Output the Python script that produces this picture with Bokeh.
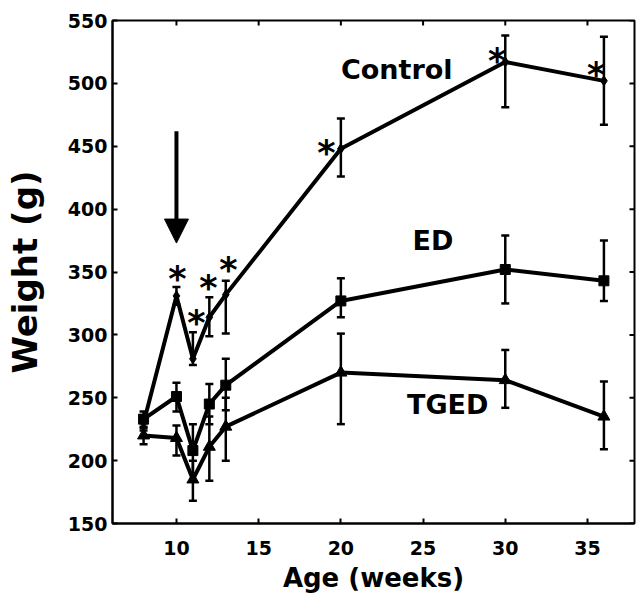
import math
from bokeh.plotting import figure
from bokeh.models import (ColumnDataSource, Whisker, TeeHead, Arrow, NormalHead,
                          FixedTicker, Range1d)
from bokeh.core.properties import value
from bokeh.embed import file_html
from bokeh.resources import INLINE

# ---------------- data ----------------
ages = [8, 10, 11, 12, 13, 20, 30, 36]

control_mean = [230, 331, 281, 314, 332, 448, 517, 502]
control_upper = [236, 338, 302, 330, 343, 472, 538, 537]
control_lower = [224, 324, 276, 299, 301, 426, 481, 467]

ed_mean = [233, 251, 208, 245, 260, 327, 352, 343]
ed_upper = [239, 262, 229, 261, 281, 345, 379, 375]
ed_lower = [227, 239, 190, 229, 240, 314, 325, 327]

tged_mean = [220, 218, 185, 211, 227, 270, 264, 235]
tged_upper = [226, 228, 200, 235, 250, 301, 288, 263]
tged_lower = [213, 204, 168, 184, 200, 229, 242, 209]

star_x = [10.06, 11.22, 11.95, 13.16, 19.12, 29.5, 35.53]
star_y = [351, 316, 344, 358, 451, 524, 513]

series_labels = ["Control", "ED", "TGED"]
label_x = [23.4, 25.6, 26.5]
label_y = [511, 375, 245]

arrow_x = 10
arrow_top = 462
arrow_tip = 373

x_ticks = [10, 15, 20, 25, 30, 35]
y_ticks = [150, 200, 250, 300, 350, 400, 450, 500, 550]
x_lo, x_hi = 6.11, 37.86
y_lo, y_hi = 150, 550

# ---------------- figure ----------------
FONT = "DejaVu Sans"

p = figure(width=636, height=600, output_backend="svg", toolbar_location=None,
           x_range=Range1d(x_lo, x_hi), y_range=Range1d(y_lo, y_hi),
           min_border_left=112, min_border_right=2, min_border_top=20,
           min_border_bottom=77)
p.xgrid.visible = False
p.ygrid.visible = False
p.outline_line_color = "black"
p.outline_line_width = 2
p.background_fill_color = "white"
p.border_fill_color = "white"

for ax in (p.xaxis[0], p.yaxis[0]):
    ax.axis_line_width = 2
    ax.axis_line_color = "black"
    ax.major_tick_in = 5
    ax.major_tick_out = 0
    ax.major_tick_line_width = 2
    ax.minor_tick_line_color = None
    ax.major_label_text_font = FONT
    ax.major_label_text_font_style = "bold"
    ax.major_label_text_font_size = "19px"
    ax.major_label_text_color = "black"
    ax.axis_label_text_font = FONT
    ax.axis_label_text_font_style = "bold"
    ax.axis_label_text_color = "black"

p.xaxis[0].ticker = FixedTicker(ticks=x_ticks)
p.yaxis[0].ticker = FixedTicker(ticks=y_ticks)
p.xaxis[0].axis_label = "Age (weeks)"
p.yaxis[0].axis_label = "Weight (g)"
p.xaxis[0].axis_label_text_font_size = "26px"
p.yaxis[0].axis_label_text_font_size = "34px"
p.xaxis[0].major_label_standoff = 17
p.yaxis[0].major_label_standoff = 5
p.xaxis[0].axis_label_standoff = 5
p.yaxis[0].axis_label_standoff = 20

# mirrored inward tick marks on top and right edges
p.ray(x=x_ticks, y=[y_hi] * len(x_ticks), length=5, length_units="screen",
      angle=-math.pi / 2, line_color="black", line_width=2)
p.ray(x=[x_hi] * len(y_ticks), y=y_ticks, length=5, length_units="screen",
      angle=math.pi, line_color="black", line_width=2)

# ---------------- series ----------------
def add_series(mean, upper, lower, marker, size):
    src = ColumnDataSource(dict(x=ages, y=mean, upper=upper, lower=lower))
    w = Whisker(source=src, base="x", upper="upper", lower="lower",
                line_color="black", line_width=2.5,
                upper_head=TeeHead(size=8, line_width=2.5, line_color="black"),
                lower_head=TeeHead(size=8, line_width=2.5, line_color="black"))
    p.add_layout(w)
    p.line("x", "y", source=src, line_color="black", line_width=4)
    p.scatter("x", "y", source=src, marker=marker, size=size,
              fill_color="black", line_color="black")

add_series(control_mean, control_upper, control_lower, "diamond", 10)
add_series(ed_mean, ed_upper, ed_lower, "square", 10)
add_series(tged_mean, tged_upper, tged_lower, "triangle", 12)

# ---------------- annotations ----------------
p.text(x=star_x, y=star_y, text=["*"] * len(star_x), text_font=value(FONT),
       text_font_style="bold", text_font_size="35px", text_align="center",
       text_baseline="middle", y_offset=8, text_color="black")

p.text(x=label_x, y=label_y, text=series_labels, text_font=value(FONT),
       text_font_style="bold", text_font_size="27px", text_align="center",
       text_baseline="middle", text_color="black")

p.add_layout(Arrow(x_start=arrow_x, y_start=arrow_top, x_end=arrow_x, y_end=arrow_tip,
                   line_width=4, line_color="black",
                   end=NormalHead(size=24, fill_color="black", line_color="black")))

open("out.html", "w").write(file_html(p, INLINE))
